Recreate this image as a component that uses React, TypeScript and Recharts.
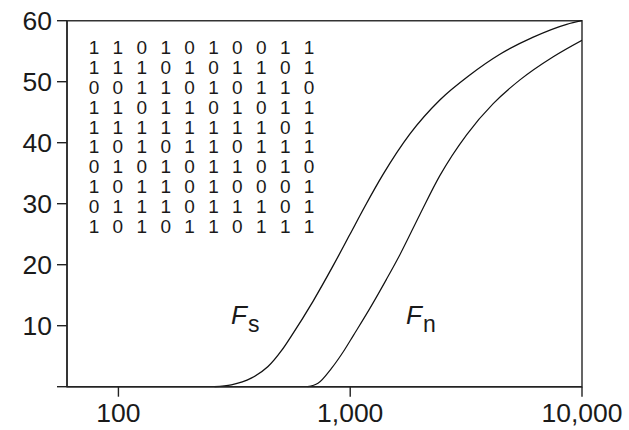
import React from 'react';
import { LineChart, Line, XAxis, YAxis, ReferenceArea, Customized } from 'recharts';

// Frequency axis ticks (log scale)
const xTicks = [100, 1000, 10000];
const xTickLabels: Record<number, string> = { 100: '100', 1000: '1,000', 10000: '10,000' };
const yTicks = [0, 10, 20, 30, 40, 50, 60];

// F_s curve
const fsX = [260, 307, 374, 442, 505, 557, 691, 843, 995, 1155, 1386, 1807, 2436, 3282, 4424, 6162, 8590, 10000];
const fsY = [0, 0.3, 1.4, 3.3, 5.9, 8.3, 14.0, 19.8, 24.9, 29.5, 34.8, 41.4, 47.0, 51.1, 54.5, 57.3, 59.4, 60];

// F_n curve
const fnX = [655, 726, 830, 947, 1028, 1214, 1433, 1636, 1996, 2436, 3177, 4139, 5398, 7516, 10000];
const fnY = [0, 0.55, 3.0, 6.1, 8.3, 12.8, 17.6, 21.6, 28.2, 34.6, 41.3, 46.4, 50.3, 54.1, 56.8];

// Binary pattern shown in the upper-left corner
const bitRows = [
  '1101010011',
  '1110101101',
  '0011010110',
  '1101101011',
  '1111111101',
  '1010110111',
  '0101011010',
  '1011010001',
  '0111011101',
  '1010110111',
];

const fsData = fsX.map((x, i) => ({ x, y: fsY[i] }));
const fnData = fnX.map((x, i) => ({ x, y: fnY[i] }));

const FONT = '"Liberation Sans", Arial, Helvetica, sans-serif';
const INK = '#1a1a1a';

const BitMatrix = () => (
  <g fontFamily={FONT} fontSize={19} fill={INK}>
    {bitRows.map((row, r) =>
      row.split('').map((b, c) => (
        <text key={`${r}-${c}`} x={94 + c * 23.9} y={47.5 + r * 19.8 + 6.8} textAnchor="middle">
          {b}
        </text>
      ))
    )}
  </g>
);

const CurveLabels = () => (
  <g fontFamily={FONT} fill={INK}>
    <text x={231} y={324} fontSize={26}>
      <tspan fontStyle="italic">F</tspan>
      <tspan fontSize={23} dy={8} dx={1}>s</tspan>
    </text>
    <text x={406} y={324} fontSize={26}>
      <tspan fontStyle="italic">F</tspan>
      <tspan fontSize={23} dy={8} dx={1}>n</tspan>
    </text>
  </g>
);

export default function App() {
  return (
    <div style={{ position: 'absolute', left: 0, top: 0, background: '#fff' }}>
      <LineChart width={629} height={430} margin={{ top: 20.7, right: 47, bottom: 0.3, left: 0 }}>
        <XAxis
          dataKey="x"
          type="number"
          scale="log"
          domain={[60, 10000]}
          allowDataOverflow
          ticks={xTicks}
          tickFormatter={(v: number) => xTickLabels[v] ?? ''}
          height={43}
          tickSize={10}
          tickMargin={6}
          stroke="#222"
          strokeWidth={1.4}
          tick={{ fontSize: 26.5, fontFamily: FONT, fill: INK }}
        />
        <YAxis
          type="number"
          domain={[0, 60]}
          ticks={yTicks}
          width={67}
          tickSize={10}
          tickMargin={5}
          tickFormatter={(v: number) => (v === 0 ? '' : String(v))}
          stroke="#222"
          strokeWidth={1.4}
          tick={{ fontSize: 26.5, fontFamily: FONT, fill: INK }}
        />
        <ReferenceArea x1={60} x2={10000} y1={0} y2={60} fill="none" stroke="#333" strokeWidth={1.5} ifOverflow="visible" />
        <Line data={fsData} dataKey="y" type="monotone" stroke="#111" strokeWidth={1.3} dot={false} isAnimationActive={false} />
        <Line data={fnData} dataKey="y" type="monotone" stroke="#111" strokeWidth={1.2} dot={false} isAnimationActive={false} />
        <Customized component={<BitMatrix />} />
        <Customized component={<CurveLabels />} />
      </LineChart>
    </div>
  );
}
